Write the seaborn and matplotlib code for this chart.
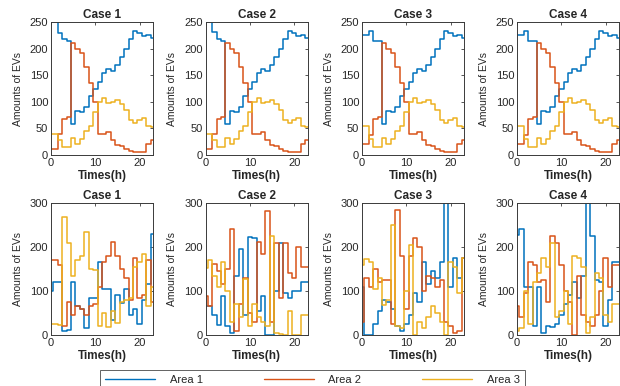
import matplotlib
matplotlib.use("Agg")
import matplotlib.pyplot as plt
from matplotlib.lines import Line2D
import pandas as pd
import seaborn as sns

# ---------------- data ----------------
hours = list(range(24))
areas = ["Area 1", "Area 2", "Area 3"]
cases = ["Case 1", "Case 2", "Case 3", "Case 4"]

# top row
top_c1_area1 = [250, 250, 230, 218, 215, 58, 82, 80, 90, 110, 125, 138, 155, 162, 157, 170, 185, 200, 218, 233, 230, 224, 225, 220]
top_c1_area2 = [12, 12, 40, 67, 72, 210, 200, 192, 165, 135, 100, 40, 40, 44, 28, 19, 16, 11, 8, 6, 5, 6, 20, 28]
top_c1_area3 = [40, 40, 28, 15, 15, 32, 20, 30, 45, 55, 80, 100, 107, 97, 100, 104, 95, 85, 65, 60, 65, 70, 55, 52]

top_c2_area1 = [250, 250, 232, 218, 215, 58, 82, 80, 90, 110, 125, 138, 155, 162, 157, 170, 185, 200, 218, 233, 230, 224, 225, 220]
top_c2_area2 = [12, 12, 40, 67, 72, 210, 200, 192, 165, 135, 100, 40, 40, 44, 28, 19, 16, 11, 8, 6, 5, 6, 20, 28]
top_c2_area3 = [40, 40, 28, 15, 15, 32, 20, 30, 45, 55, 80, 100, 107, 97, 100, 104, 95, 85, 65, 60, 65, 70, 55, 52]

top_c3_area1 = [225, 225, 233, 215, 215, 58, 82, 80, 90, 110, 125, 138, 155, 162, 157, 170, 185, 200, 218, 233, 230, 224, 225, 220]
top_c3_area2 = [20, 20, 37, 67, 72, 210, 200, 192, 165, 135, 100, 40, 40, 44, 28, 19, 16, 11, 8, 6, 5, 6, 20, 28]
top_c3_area3 = [55, 55, 30, 15, 15, 32, 20, 30, 45, 55, 80, 100, 107, 97, 100, 104, 95, 85, 65, 60, 65, 70, 55, 52]

top_c4_area1 = [225, 225, 233, 215, 215, 58, 82, 80, 90, 110, 125, 138, 155, 162, 157, 170, 185, 200, 218, 233, 230, 224, 225, 220]
top_c4_area2 = [20, 20, 37, 67, 72, 210, 200, 192, 165, 135, 100, 40, 40, 44, 28, 19, 16, 11, 8, 6, 5, 6, 20, 28]
top_c4_area3 = [55, 55, 30, 15, 15, 32, 20, 30, 45, 55, 80, 100, 107, 97, 100, 104, 95, 85, 65, 60, 65, 70, 55, 52]

# bottom row
bot_c1_area1 = [100, 120, 120, 10, 12, 120, 65, 60, 15, 85, 85, 165, 105, 105, 34, 90, 73, 105, 45, 60, 24, 80, 115, 230]
bot_c1_area2 = [170, 170, 158, 20, 75, 45, 65, 58, 45, 65, 70, 110, 165, 180, 212, 180, 150, 130, 80, 175, 85, 90, 170, 75]
bot_c1_area3 = [25, 25, 22, 268, 210, 135, 170, 180, 235, 150, 148, 20, 50, 18, 55, 28, 75, 80, 85, 155, 165, 183, 65, 110]

bot_c2_area1 = [65, 65, 45, 22, 88, 20, 5, 135, 195, 45, 222, 220, 55, 88, 0, 0, 100, 210, 95, 85, 100, 100, 120, 120]
bot_c2_area2 = [88, 65, 162, 145, 115, 150, 240, 10, 70, 130, 50, 30, 212, 185, 282, 30, 210, 85, 210, 140, 130, 200, 155, 155]
bot_c2_area3 = [152, 170, 135, 110, 165, 100, 30, 70, 40, 128, 20, 70, 40, 30, 20, 225, 5, 2, 0, 55, 0, 0, 45, 45]

bot_c3_area1 = [110, 0, 0, 25, 55, 80, 75, 60, 20, 10, 25, 45, 95, 75, 165, 115, 145, 130, 165, 300, 110, 175, 130, 175]
bot_c3_area2 = [30, 130, 110, 150, 120, 125, 125, 25, 285, 180, 60, 180, 220, 200, 100, 135, 130, 110, 125, 30, 20, 5, 10, 175]
bot_c3_area3 = [160, 172, 165, 105, 130, 68, 80, 250, 20, 15, 100, 205, 0, 30, 15, 40, 65, 50, 30, 0, 165, 155, 95, 175]

bot_c4_area1 = [228, 240, 108, 110, 20, 110, 5, 20, 18, 25, 45, 70, 90, 120, 85, 135, 300, 225, 125, 120, 20, 80, 165, 165]
bot_c4_area2 = [65, 40, 95, 165, 160, 120, 125, 75, 225, 210, 160, 100, 75, 0, 135, 45, 30, 20, 45, 100, 175, 110, 160, 160]
bot_c4_area3 = [10, 15, 100, 25, 120, 140, 175, 155, 210, 40, 55, 100, 25, 180, 175, 155, 5, 40, 140, 130, 45, 30, 70, 70]

top_yticks = [0, 50, 100, 150, 200, 250]
bot_yticks = [0, 100, 200, 300]
x_ticks = [0, 10, 20]

# ---------------- style ----------------
sns.set_theme(style="white")
plt.rcParams["font.family"] = ["Liberation Sans", "DejaVu Sans"]
colors = {"Area 1": "#0072BD", "Area 2": "#D95319", "Area 3": "#EDB120"}
spine_col = "#3a3a3a"
text_col = "#262626"

rows = [
    [(top_c1_area1, top_c1_area2, top_c1_area3),
     (top_c2_area1, top_c2_area2, top_c2_area3),
     (top_c3_area1, top_c3_area2, top_c3_area3),
     (top_c4_area1, top_c4_area2, top_c4_area3)],
    [(bot_c1_area1, bot_c1_area2, bot_c1_area3),
     (bot_c2_area1, bot_c2_area2, bot_c2_area3),
     (bot_c3_area1, bot_c3_area2, bot_c3_area3),
     (bot_c4_area1, bot_c4_area2, bot_c4_area3)],
]

W, H = 620, 386
fig = plt.figure(figsize=(W / 100, H / 100), dpi=100)
lefts_px = [51, 205.5, 362, 517]
ax_w_px = 102
row_geom = [(22, 155), (203, 335)]  # top, bottom pixel
row_ylim = [(0, 250), (0, 300)]
row_ticks = [top_yticks, bot_yticks]

for r, row in enumerate(rows):
    y0, y1 = row_geom[r]
    for c, series in enumerate(row):
        ax = fig.add_axes([lefts_px[c] / W, 1 - y1 / H, ax_w_px / W, (y1 - y0) / H])
        df = pd.DataFrame({
            "Times": hours * 3,
            "EVs": series[0] + series[1] + series[2],
            "Area": sum([[a] * len(hours) for a in areas], []),
        })
        sns.lineplot(data=df, x="Times", y="EVs", hue="Area", hue_order=areas,
                     palette=colors, estimator=None, drawstyle="steps-mid",
                     linewidth=1.1, legend=False, ax=ax)
        ax.set_xlim(0, 23)
        ax.set_ylim(*row_ylim[r])
        ax.set_xticks(x_ticks)
        ax.set_yticks(row_ticks[r])
        ax.set_title(cases[c], fontsize=8.5, fontweight="bold", pad=3, color=text_col)
        ax.set_xlabel("Times(h)", fontsize=8.5, fontweight="bold", labelpad=1.5, color=text_col)
        ax.set_ylabel("Amounts of EVs", fontsize=7.5, labelpad=5, color=text_col)
        ax.tick_params(direction="in", length=2.5, width=0.6, top=True, right=True,
                       labelsize=8, pad=2, colors=spine_col, labelcolor=text_col)
        for s in ax.spines.values():
            s.set_visible(True)
            s.set_color(spine_col)
            s.set_linewidth(0.7)

handles = [Line2D([0], [0], color=colors[a], lw=1.0) for a in areas]
leg = fig.legend(handles, areas, loc="upper center", bbox_to_anchor=(312.5 / W, 1 - 364 / H),
                 ncol=3, fontsize=8, frameon=True, fancybox=False, handlelength=4.5,
                 handletextpad=1.3, columnspacing=5.5, borderpad=0.5)
leg.get_frame().set_edgecolor(spine_col)
leg.get_frame().set_linewidth(0.7)

fig.savefig("out.png", dpi=100, facecolor="white")
